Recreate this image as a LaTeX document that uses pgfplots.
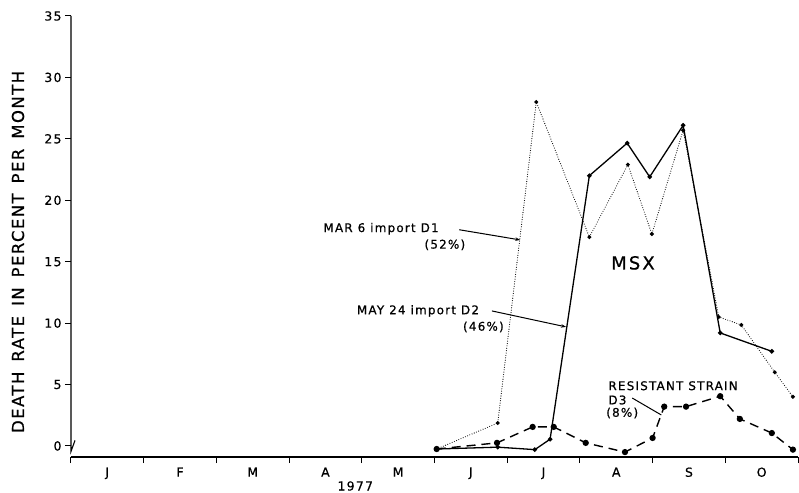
\documentclass[border=0pt]{standalone}
\usepackage{fontspec}
\setmainfont{DejaVu Sans}
\newfontfamily\ann{DejaVu Sans}[LetterSpace=10,FakeBold=0.6]
\newfontfamily\yl{DejaVu Sans}[LetterSpace=9,FakeBold=0.6]
\newfontfamily\msx{DejaVu Sans}[LetterSpace=12,FakeBold=0.8]
\usepackage{pgfplots}
\pgfplotsset{compat=1.18}
\usetikzlibrary{arrows.meta}

\pgfplotstableread{
m v
5.03 -0.25
5.87 1.87
6.40 28.0
7.13 17.0
7.66 22.9
7.99 17.25
8.42 25.7
8.91 10.5
9.22 9.85
9.68 6.0
9.93 4.0
}\done

\pgfplotstableread{
m v
5.03 -0.25
5.87 -0.1
6.38 -0.3
6.59 0.55
7.13 22.0
7.65 24.65
7.96 21.9
8.42 26.1
8.93 9.2
9.64 7.7
}\dtwo

\pgfplotstableread{
m v
5.03 -0.25
5.86 0.25
6.35 1.55
6.64 1.55
7.08 0.25
7.62 -0.5
8.00 0.65
8.16 3.2
8.46 3.2
8.93 4.05
9.20 2.2
9.64 1.05
9.93 -0.3
}\dthree

\begin{document}
\begin{tikzpicture}
\begin{axis}[
  at={(0,0)}, anchor=south west,
  scale only axis, width=727bp, height=441bp,
  xmin=0, xmax=10, ymin=-0.9, ymax=35,
  clip=false,
  axis x line*=bottom, axis y line*=left,
  y axis line style={draw=none},
  axis line style={line width=1.1bp},
  xtick={0,...,10}, xticklabels={},
  extra x ticks={0.5,1.5,...,9.5},
  extra x tick labels={J,F,M,A,M,J,J,A,S,O},
  extra x tick style={major tick length=0pt, tick label style={yshift=-7bp}},
  ytick={0,5,...,35},
  tick align=outside, major tick length=6bp,
  tick style={line width=1bp, black},
  ticklabel style={font=\ann\fontsize{12.5}{14}\selectfont},
  /pgf/number format/assume math mode=true,
]
\draw[line width=1.1bp] (axis cs:0,35) -- (axis cs:0,-0.45) -- ++(4bp,0);

\addplot[black, line width=1.1bp, line cap=round, dash pattern=on 0pt off 2.4bp,
  mark=*, mark size=1.4bp, mark options={solid}] table[x=m,y=v] {\done};
\addplot[black, line width=1.3bp, mark=*, mark size=1.6bp] table[x=m,y=v] {\dtwo};
\addplot[black, line width=1.4bp, dash pattern=on 9bp off 6bp,
  mark=*, mark size=2.4bp, mark options={solid}] table[x=m,y=v] {\dthree};

\node[rotate=90, font=\yl\fontsize{16.5}{18}\selectfont] at ([xshift=-53bp]rel axis cs:0,0.465)
  {DEATH\hspace{10bp}RATE\hspace{10bp}IN\hspace{10bp}PERCENT\hspace{10bp}PER\hspace{10bp}MONTH};
\node[font=\ann\fontsize{12.5}{14}\selectfont] at ([yshift=-29bp]axis cs:3.91,-0.9) {1977};

\begin{scope}[every node/.style={font=\ann\fontsize{12}{14}\selectfont, inner sep=0pt, anchor=west}]
\node at (axis cs:3.47,17.68) {MAR 6 import D1};
\node at (axis cs:4.86,16.37) {(52\%)};
\node at (axis cs:3.93,10.99) {MAY 24 import D2};
\node at (axis cs:5.39,9.69) {(46\%)};
\node at (axis cs:7.39,4.9) {RESISTANT STRAIN};
\node at (axis cs:7.39,3.74) {D3};
\node at (axis cs:7.36,2.68) {(8\%)};
\end{scope}
\node[font=\msx\fontsize{18}{20}\selectfont, inner sep=0pt] at (axis cs:7.73,14.9) {MSX};

\draw[line width=1bp, -{Stealth[length=5bp,width=3.5bp]}] (axis cs:5.34,17.6) -- (axis cs:6.18,16.77);
\draw[line width=1bp, -{Stealth[length=5bp,width=3.5bp]}] (axis cs:5.79,10.99) -- (axis cs:6.81,9.69);
\draw[line width=1bp] (axis cs:7.72,3.9) -- (axis cs:8.12,2.52);
\end{axis}
\pgfresetboundingbox
\path[use as bounding box] (-71bp,-36bp) rectangle (728bp,457bp);
\end{tikzpicture}
\end{document}
